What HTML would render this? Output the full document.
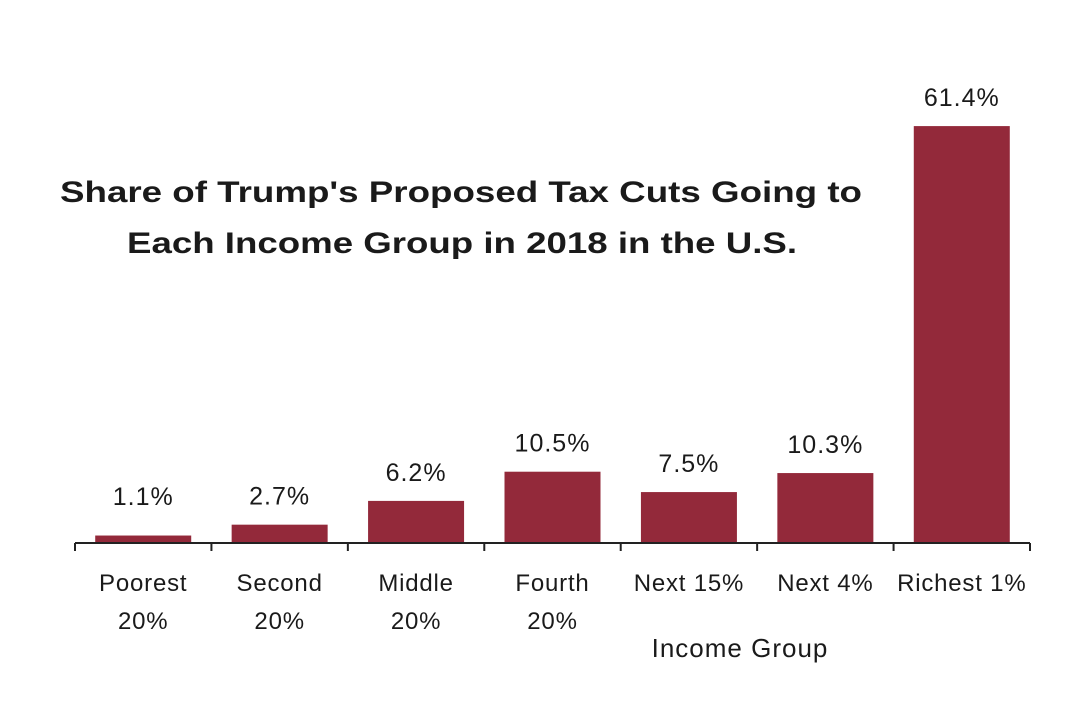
<!DOCTYPE html>
<html><head><meta charset="utf-8"><style>
body{margin:0;background:#fff;}
svg text{font-family:"Liberation Sans",sans-serif;fill:#1a1a1a;}
</style></head><body>
<svg id="chart" width="1080" height="715" viewBox="0 0 1080 715" xmlns="http://www.w3.org/2000/svg">
<text x="60" y="202" font-size="30" font-weight="bold" textLength="802" lengthAdjust="spacingAndGlyphs">Share of Trump's Proposed Tax Cuts Going to</text>
<text x="127" y="253" font-size="30" font-weight="bold" textLength="670" lengthAdjust="spacingAndGlyphs">Each Income Group in 2018 in the U.S.</text>
<g id="bars"></g>
<g id="axis"></g>
<text x="740" y="657" text-anchor="middle" font-size="26" letter-spacing="1">Income Group</text>
</svg>
<script>
const categoriesLine1 = ["Poorest","Second","Middle","Fourth","Next 15%","Next 4%","Richest 1%"];
const categoriesLine2 = ["20%","20%","20%","20%","","",""];
const values = [1.1,2.7,6.2,10.5,7.5,10.3,61.4];
const valueLabels = ["1.1%","2.7%","6.2%","10.5%","7.5%","10.3%","61.4%"];

const NS="http://www.w3.org/2000/svg";
const x0=75,x1=1030,baseY=543,pxPer=6.79,barW=96;
const step=(x1-x0)/values.length;
const xCenter=i=>x0+step*(i+0.5);
const y=v=>baseY-v*pxPer;
const bars=document.getElementById('bars'),axis=document.getElementById('axis');
function mk(tag,attrs,parent){const e=document.createElementNS(NS,tag);for(const k in attrs)e.setAttribute(k,attrs[k]);parent.appendChild(e);return e;}
values.forEach((v,i)=>{
  const r=mk('rect',{x:xCenter(i)-barW/2,y:y(v),width:barW,height:baseY-y(v),fill:'#93293a'},bars);
  
  
  const t=mk('text',{x:xCenter(i),y:Math.min(y(v)-20,505),'text-anchor':'middle','font-size':'25','letter-spacing':'1'},bars);
  t.textContent=valueLabels[i];
  
  
  const c1=mk('text',{x:xCenter(i),y:591,'text-anchor':'middle','font-size':'24','letter-spacing':'0.8'},axis);
  c1.textContent=categoriesLine1[i];
  
  
  if(categoriesLine2[i]){
    const c2=mk('text',{x:xCenter(i),y:629,'text-anchor':'middle','font-size':'24','letter-spacing':'0.8'},axis);
    c2.textContent=categoriesLine2[i];
    
    
  }
});
const line=mk('line',{x1:x0,y1:baseY,x2:x1,y2:baseY,stroke:'#222','stroke-width':2},axis);


for(let i=0;i<=values.length;i++){
  const tk=mk('line',{x1:x0+step*i,y1:baseY,x2:x0+step*i,y2:baseY+8,stroke:'#222','stroke-width':2},axis);
  
  
}
</script>
</body></html>
